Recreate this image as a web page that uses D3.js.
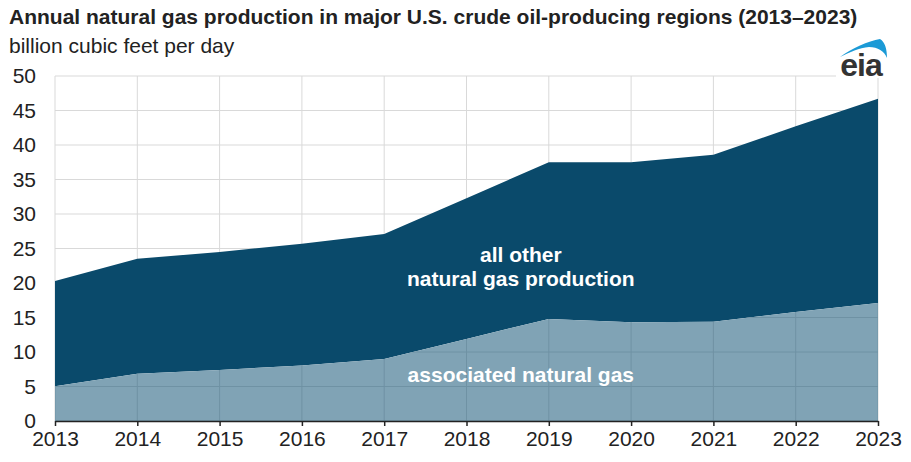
<!DOCTYPE html>
<html>
<head>
<meta charset="utf-8">
<script src="https://d3js.org/d3.v7.min.js"></script>
<style>
  body { margin: 0; background: #fff; }
  svg { display: block; font-family: "Liberation Sans", Arial, sans-serif; }
</style>
</head>
<body>
<div id="chart"></div>
<script>
const years = [2013, 2014, 2015, 2016, 2017, 2018, 2019, 2020, 2021, 2022, 2023];
// billion cubic feet per day
const associatedGas = [5.05, 6.85, 7.4, 8.05, 9.0, 11.9, 14.8, 14.3, 14.4, 15.8, 17.1];
const totalGas = [20.3, 23.5, 24.5, 25.7, 27.1, 32.3, 37.5, 37.5, 38.6, 42.7, 46.7];
const yTicks = [0, 5, 10, 15, 20, 25, 30, 35, 40, 45, 50];

const svgWidth = 911, svgHeight = 462;
const margin = { top: 76, right: 33, bottom: 41, left: 55 };
const width = svgWidth - margin.left - margin.right;
const height = svgHeight - margin.top - margin.bottom;

const svg = d3.select("#chart").append("svg")
  .attr("width", svgWidth)
  .attr("height", svgHeight);

// Title and units
svg.append("text")
  .attr("x", 9).attr("y", 24)
  .style("font-size", "21px").style("font-weight", "bold").style("fill", "#222")
  .text("Annual natural gas production in major U.S. crude oil-producing regions (2013\u20132023)");
svg.append("text")
  .attr("x", 9).attr("y", 53)
  .style("font-size", "21px").style("fill", "#222")
  .text("billion cubic feet per day");

const chart = svg.append("g").attr("transform", `translate(${margin.left},${margin.top})`);

const x = d3.scaleLinear().domain([2013, 2023]).range([0, width]);
const y = d3.scaleLinear().domain([0, 50]).range([height, 0]);

// grid
chart.append("g").selectAll("line.h").data(yTicks).join("line")
  .attr("x1", 0).attr("x2", width)
  .attr("y1", d => y(d)).attr("y2", d => y(d))
  .attr("stroke", "#d9d9d9").attr("stroke-width", 1);
chart.append("g").selectAll("line.v").data(years).join("line")
  .attr("x1", d => x(d)).attr("x2", d => x(d))
  .attr("y1", 0).attr("y2", height)
  .attr("stroke", "#d9d9d9").attr("stroke-width", 1);

const rows = years.map((yr, i) => ({ year: yr, assoc: associatedGas[i], total: totalGas[i] }));

// all other (stacked on top)
chart.append("path")
  .datum(rows)
  .attr("fill", "#0a4a6b")
  .attr("d", d3.area().x(d => x(d.year)).y0(d => y(d.assoc)).y1(d => y(d.total)));

chart.append("path")
  .datum(rows)
  .attr("fill", "#80a3b5")
  .attr("d", d3.area().x(d => x(d.year)).y0(y(0)).y1(d => y(d.assoc)));

// faint grid showing through the light area
chart.append("clipPath").attr("id", "lightclip")
  .append("path").datum(rows)
  .attr("d", d3.area().x(d => x(d.year)).y0(y(0)).y1(d => y(d.assoc)));
const g2 = chart.append("g").attr("clip-path", "url(#lightclip)");
g2.selectAll("line.h").data(yTicks).join("line")
  .attr("x1", 0).attr("x2", width)
  .attr("y1", d => y(d)).attr("y2", d => y(d))
  .attr("stroke", "#6f92a4").attr("stroke-width", 1);
g2.selectAll("line.v").data(years).join("line")
  .attr("x1", d => x(d)).attr("x2", d => x(d))
  .attr("y1", 0).attr("y2", height)
  .attr("stroke", "#6f92a4").attr("stroke-width", 1);

// axes
const yAxis = chart.append("g")
  .call(d3.axisLeft(y).tickValues(yTicks).tickSize(0).tickPadding(19));
yAxis.select(".domain").remove();
yAxis.selectAll("text").style("font-size", "21px").style("fill", "#222")
  .style("font-family", "Liberation Sans, Arial, sans-serif");

const xAxis = chart.append("g")
  .attr("transform", `translate(0,${height})`)
  .call(d3.axisBottom(x).tickValues(years).tickFormat(d3.format("d")).tickSizeInner(5).tickSizeOuter(0).tickPadding(5));
xAxis.select(".domain").attr("stroke", "#222").attr("stroke-width", 1.5);
xAxis.selectAll(".tick line").attr("stroke", "#222").attr("stroke-width", 1.5);
xAxis.selectAll("text").style("font-size", "21px").style("fill", "#222")
  .style("font-family", "Liberation Sans, Arial, sans-serif");

// labels
const labelStyle = sel => sel.attr("text-anchor", "middle")
  .style("font-size", "21px").style("font-weight", "bold").style("fill", "#fff");
chart.append("text").call(labelStyle)
  .attr("x", x(2018.66)).attr("y", y(23.1)).text("all other");
chart.append("text").call(labelStyle)
  .attr("x", x(2018.66)).attr("y", y(19.5)).text("natural gas production");
chart.append("text").call(labelStyle)
  .attr("x", x(2018.66)).attr("y", y(5.6)).text("associated natural gas");

// eia logo
const logo = svg.append("g").attr("transform", "translate(860,60)");
logo.append("rect").attr("x", -24).attr("y", -26).attr("width", 52).attr("height", 44).attr("fill", "#fff");
logo.append("path")
  .attr("d", "M-20,-3 C-8,-12 8,-19 20,-21 C25,-18 27,-11 27,-2 C24,-9 18,-13 9,-13 C-1,-12 -10,-8 -20,-3 Z")
  .attr("fill", "#1b9ad6");
logo.append("text")
  .attr("x", 1).attr("y", 16)
  .attr("text-anchor", "middle")
  .style("font-size", "32px").style("font-weight", "bold").style("fill", "#333")
  .style("letter-spacing", "-1px")
  .text("eia");
</script>
</body>
</html>
